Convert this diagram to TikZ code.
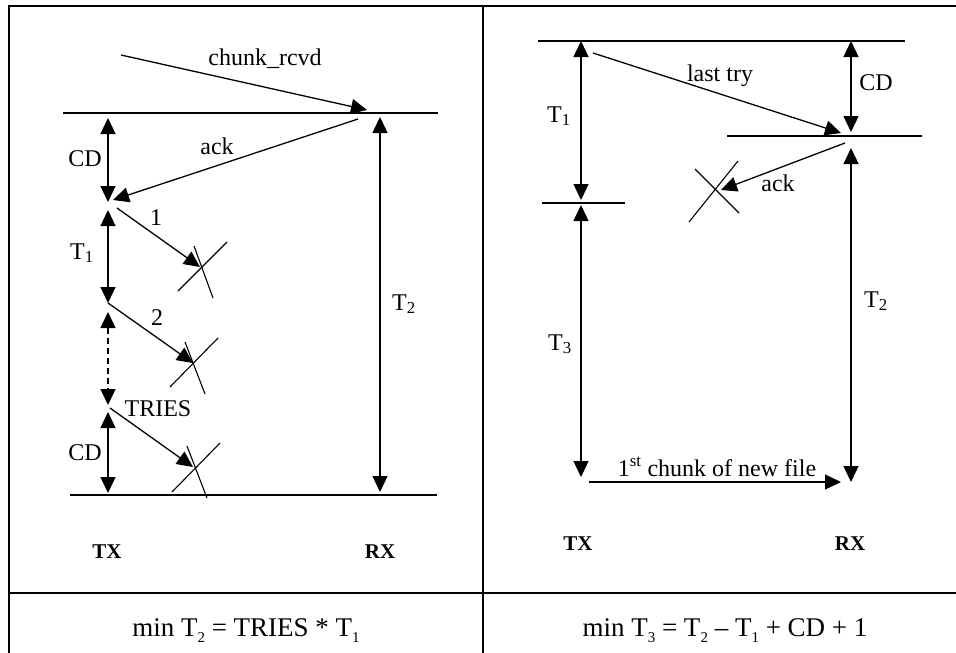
\documentclass[tikz,border=0pt]{standalone}
\usepackage{fontspec}
\setmainfont{Liberation Serif}
\usetikzlibrary{arrows.meta}
\newcommand{\fsub}[1]{\raisebox{-6pt}{\fontsize{15}{15}\selectfont #1}}
\begin{document}
\begin{tikzpicture}[x=1pt,y=-1pt,
  tip/.tip={Triangle[length=16pt,width=15pt]},
  arr/.style={-tip, line width=1.3pt},
  darr/.style={tip-tip, line width=1.3pt},
  plain/.style={line width=1.3pt},
  grid/.style={line width=1.4pt},
  xmark/.style={line width=1.1pt},
  lbl/.style={font=\fontsize{24}{28}\selectfont, inner sep=0pt, anchor=base},
  bld/.style={font=\fontsize{21}{25}\selectfont\bfseries, inner sep=0pt, anchor=base},
  frm/.style={font=\fontsize{27}{31}\selectfont, inner sep=0pt, anchor=base}]
\useasboundingbox (0,0) rectangle (956,653);
% table frame
\coordinate (tl) at (9,6); \coordinate (tr) at (956,6);
\coordinate (bl) at (9,653); \coordinate (tm) at (483,6); \coordinate (bm) at (483,653);
\coordinate (dl) at (9,593); \coordinate (dr) at (956,593);
\draw[grid] (bl) -- (tl) -- (tr);
\draw[grid] (tm) -- (bm);
\draw[grid] (dl) -- (dr);

% ---------- left panel ----------
\coordinate (L1a) at (63,113); \coordinate (L1b) at (438,113);
\coordinate (L2a) at (70,495); \coordinate (L2b) at (437,495);
\draw[plain] (L1a) -- (L1b);
\draw[plain] (L2a) -- (L2b);

\coordinate (crS) at (121,55); \coordinate (crE) at (367,110);
\draw[arr] (crS) -- (crE);
\node[lbl] (crL) at (265,65) {chunk\_rcvd};

\coordinate (akS) at (358,119); \coordinate (akE) at (113,200);
\draw[arr] (akS) -- (akE);
\node[lbl] (akL) at (217,154) {ack};

\coordinate (cd1a) at (108,118); \coordinate (cd1b) at (108,202);
\draw[darr] (cd1a) -- (cd1b);
\node[lbl] (cd1L) at (85,166) {CD};

\coordinate (t1a) at (108,210); \coordinate (t1b) at (108,303);
\draw[darr] (t1a) -- (t1b);
\node[lbl] (t1L) at (82,259) {T\textsubscript{1}};

\coordinate (dsa) at (108,312); \coordinate (dsb) at (108,405);
\draw[darr, dashed, dash pattern=on 6pt off 4pt] (dsa) -- (dsb);

\coordinate (cd2a) at (108,412); \coordinate (cd2b) at (108,493);
\draw[darr] (cd2a) -- (cd2b);
\node[lbl] (cd2L) at (85,460) {CD};

\coordinate (t2a) at (380,117); \coordinate (t2b) at (380,492);
\draw[darr] (t2a) -- (t2b);
\node[lbl] (t2L) at (404,310) {T\textsubscript{2}};

\coordinate (s1S) at (117,208); \coordinate (s1E) at (200,267);
\draw[arr] (s1S) -- (s1E);
\node[lbl] (s1L) at (156,225) {1};
\coordinate (x1a) at (178,291); \coordinate (x1b) at (227,242);
\coordinate (x1c) at (194,246); \coordinate (x1d) at (213,298);
\draw[xmark] (x1a) -- (x1b); \draw[xmark] (x1c) -- (x1d);

\coordinate (s2S) at (108,303); \coordinate (s2E) at (193,363);
\draw[arr] (s2S) -- (s2E);
\node[lbl] (s2L) at (157,325) {2};
\coordinate (x2a) at (170,387); \coordinate (x2b) at (218,338);
\coordinate (x2c) at (185,342); \coordinate (x2d) at (205,394);
\draw[xmark] (x2a) -- (x2b); \draw[xmark] (x2c) -- (x2d);

\coordinate (s3S) at (110,408); \coordinate (s3E) at (193,467);
\draw[arr] (s3S) -- (s3E);
\node[lbl] (s3L) at (158,416) {TRIES};
\coordinate (x3a) at (172,492); \coordinate (x3b) at (220,443);
\coordinate (x3c) at (187,446); \coordinate (x3d) at (207,498);
\draw[xmark] (x3a) -- (x3b); \draw[xmark] (x3c) -- (x3d);

\node[bld] (txL) at (107,558) {TX};
\node[bld] (rxL) at (380,558) {RX};
\node[frm] (fL) at (246,636) {min T\fsub{2} = TRIES * T\fsub{1}};

% ---------- right panel ----------
\coordinate (R1a) at (538,41); \coordinate (R1b) at (905,41);
\coordinate (R2a) at (727,136); \coordinate (R2b) at (922,136);
\coordinate (R3a) at (542,203); \coordinate (R3b) at (625,203);
\draw[plain] (R1a) -- (R1b);
\draw[plain] (R2a) -- (R2b);
\draw[plain] (R3a) -- (R3b);

\coordinate (rt1a) at (581,41); \coordinate (rt1b) at (581,200);
\draw[darr] (rt1a) -- (rt1b);
\node[lbl] (rt1L) at (559,122) {T\textsubscript{1}};

\coordinate (rt3a) at (581,205); \coordinate (rt3b) at (581,477);
\draw[darr] (rt3a) -- (rt3b);
\node[lbl] (rt3L) at (560,350) {T\textsubscript{3}};

\coordinate (rcda) at (851,41); \coordinate (rcdb) at (851,132);
\draw[darr] (rcda) -- (rcdb);
\node[lbl] (rcdL) at (876,90) {CD};

\coordinate (rt2a) at (851,148); \coordinate (rt2b) at (851,482);
\draw[darr] (rt2a) -- (rt2b);
\node[lbl] (rt2L) at (876,307) {T\textsubscript{2}};

\coordinate (ltS) at (593,53); \coordinate (ltE) at (841,133);
\draw[arr] (ltS) -- (ltE);
\node[lbl] (ltL) at (720,81) {last try};

\coordinate (rakS) at (845,143); \coordinate (rakE) at (721,190);
\draw[arr] (rakS) -- (rakE);
\node[lbl] (rakL) at (778,191) {ack};
\coordinate (rxa) at (689,222); \coordinate (rxb) at (738,161);
\coordinate (rxc) at (695,169); \coordinate (rxd) at (739,213);
\draw[xmark] (rxa) -- (rxb); \draw[xmark] (rxc) -- (rxd);

\coordinate (fcS) at (589,482); \coordinate (fcE) at (841,482);
\draw[arr] (fcS) -- (fcE);
\node[lbl] (fcL) at (717,476) {1\textsuperscript{st} chunk of new file};

\node[bld] (txR) at (578,550) {TX};
\node[bld] (rxR) at (850,550) {RX};
\node[frm] (fR) at (725,636) {min T\fsub{3} = T\fsub{2} – T\fsub{1} + CD + 1};
\end{tikzpicture}
\end{document}
